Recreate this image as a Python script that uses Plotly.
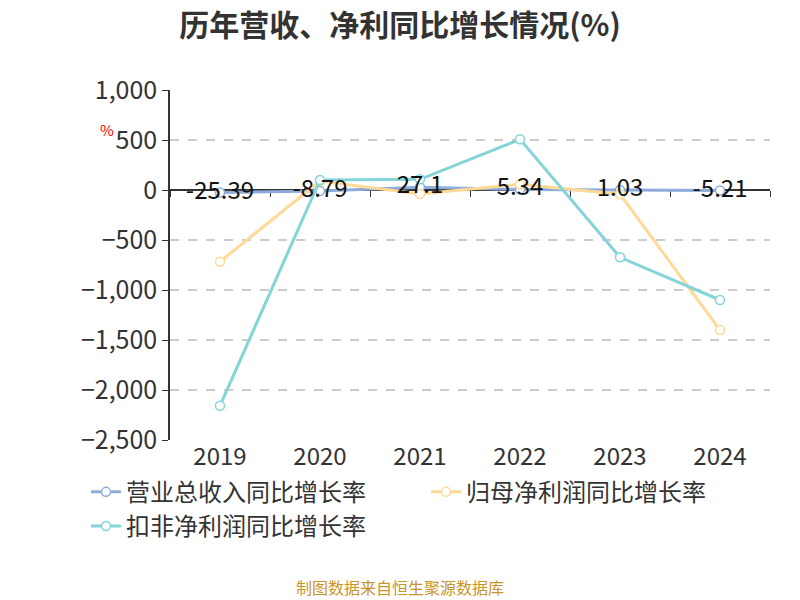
import plotly.graph_objects as go

years = ['2019', '2020', '2021', '2022', '2023', '2024']
revenue_growth = [-25.39, -8.79, 27.1, 5.34, 1.03, -5.21]
profit_growth = [-717, 90, -40, 57, -43, -1400]
deducted_growth = [-2157, 100, 107, 507, -673, -1100]

revenue_labels = ['-25.39', '-8.79', '27.1', '5.34', '1.03', '-5.21']

FONT = 'Noto Sans CJK SC'

fig = go.Figure()

fig.add_trace(go.Scatter(
    x=years, y=revenue_growth, name='营业总收入同比增长率',
    mode='lines+markers',
    line=dict(color='#8eacd9', width=3),
    marker=dict(symbol='circle', size=9, color='white', line=dict(color='#8eacd9', width=1.5)),
))
fig.add_trace(go.Scatter(
    x=years, y=profit_growth, name='归母净利润同比增长率',
    mode='lines+markers',
    line=dict(color='#ffd996', width=3),
    marker=dict(symbol='circle', size=9, color='white', line=dict(color='#ffd996', width=1.5)),
))
fig.add_trace(go.Scatter(
    x=years, y=deducted_growth, name='扣非净利润同比增长率',
    mode='lines+markers',
    line=dict(color='#84d4d8', width=3),
    marker=dict(symbol='circle', size=9, color='white', line=dict(color='#84d4d8', width=1.5)),
))
# labels of the revenue series drawn on top of every line
fig.add_trace(go.Scatter(
    x=years, y=revenue_growth, mode='text', text=revenue_labels,
    textposition='middle center', showlegend=False, hoverinfo='skip',
    textfont=dict(size=24, color='#111111', family=FONT),
))

fig.update_layout(
    width=800, height=600,
    margin=dict(l=170, r=30, t=90, b=160, autoexpand=False),
    paper_bgcolor='white', plot_bgcolor='white',
    font=dict(family=FONT, color='#333333'),
    title=dict(text='<b>历年营收、净利同比增长情况(%)</b>', x=0.5, xanchor='center',
               y=0.958, yanchor='middle', font=dict(size=30, color='#333333', family=FONT)),
    showlegend=True,
    legend=dict(orientation='h', x=-0.14, xanchor='left', y=-0.085, yanchor='top',
                font=dict(size=24, color='#333333', family=FONT),
                tracegroupgap=0, entrywidth=295),
    xaxis=dict(type='category', range=[-0.5, 5.5], showgrid=False, showline=False, ticks='',
               tickfont=dict(size=24, color='#333333'), zeroline=False),
    xaxis2=dict(type='category', matches='x', overlaying='x', anchor='free', position=0.7143,
                showline=True, linecolor='#333333', linewidth=1.5, ticks='outside',
                tickson='boundaries', ticklen=6, tickcolor='#333333', showticklabels=False,
                showgrid=False, layer='below traces'),
    yaxis=dict(range=[-2500, 1000], dtick=500, tickformat=',', showline=True,
               linecolor='#333333', linewidth=1.5, ticks='outside', ticklen=6,
               tickcolor='#333333', tickfont=dict(size=25, color='#333333'),
               showgrid=True, gridcolor='#cccccc', griddash='dash', gridwidth=1.5,
               zeroline=False),
)

# dummy trace so the zero-line axis gets drawn
fig.add_trace(go.Scatter(x=years, y=[None] * len(years), xaxis='x2', showlegend=False,
                         hoverinfo='skip'))

fig.add_annotation(text='%', xref='paper', yref='paper', x=-0.105, y=0.886,
                   xanchor='center', yanchor='middle',
                   showarrow=False, font=dict(size=15, color='red'))
fig.add_annotation(text='制图数据来自恒生聚源数据库', xref='paper', yref='paper',
                   x=0.383, y=-0.42, xanchor='center', yanchor='middle', showarrow=False,
                   font=dict(size=16, color='#c8952a', family=FONT))

fig.write_html('out.html', config={'displayModeBar': False},
               post_script="document.body.style.margin='0px';")
